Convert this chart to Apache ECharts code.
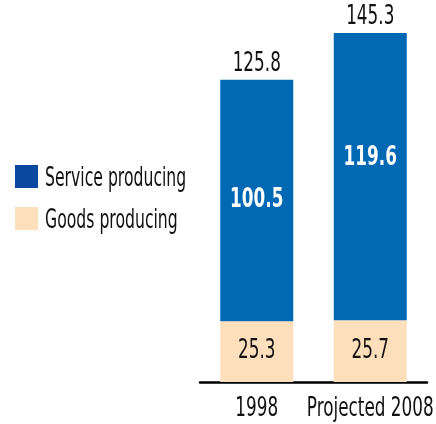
<!DOCTYPE html>
<html>
<head>
<meta charset="utf-8">
<script src="https://cdn.jsdelivr.net/npm/echarts@6/dist/echarts.min.js"></script>
<style>
  html, body { margin: 0; padding: 0; background: #fff; }
  #chart { width: 436px; height: 424px; }
</style>
</head>
<body>
<div id="chart"></div>
<script>
// Employment by sector, millions of jobs
const categories = ['1998', 'Projected 2008'];
const seriesNames = ['Service producing', 'Goods producing'];
const goodsProducing = [25.3, 25.7];
const serviceProducing = [100.5, 119.6];
const totals = categories.map((_, i) => +(goodsProducing[i] + serviceProducing[i]).toFixed(1));

const FAMILY = "'DejaVu Sans Condensed', 'DejaVu Sans', sans-serif";
const SQUEEZE = 0.72;          // horizontal squeeze for a tall, narrow typeface
const BLUE = '#0169b4';
const BLUE_KEY = '#0a47a0';
const PEACH = '#fddfbb';
const INK = '#111';

const chart = echarts.init(document.getElementById('chart'), null, { renderer: 'canvas' });

chart.setOption({
  animation: false,
  grid: { left: 200, right: 9, top: 0, bottom: 42 },
  legend: {
    orient: 'vertical',
    left: 15,
    top: 165,
    padding: 0,
    itemWidth: 23,
    itemHeight: 23,
    itemGap: 19,
    icon: 'rect',
    formatter: () => '',
    data: [
      { name: seriesNames[0], itemStyle: { color: BLUE_KEY } },
      { name: seriesNames[1], itemStyle: { color: PEACH } }
    ]
  },
  xAxis: {
    type: 'category',
    data: categories,
    offset: 2,
    axisLine: { lineStyle: { color: '#000', width: 2.5 } },
    axisTick: { show: false },
    axisLabel: { show: false }
  },
  yAxis: { type: 'value', min: 0, max: 159, show: false },
  series: [
    {
      name: seriesNames[1],
      type: 'bar',
      stack: 'jobs',
      barWidth: 73,
      itemStyle: { color: PEACH },
      data: goodsProducing
    },
    {
      name: seriesNames[0],
      type: 'bar',
      stack: 'jobs',
      barWidth: 73,
      itemStyle: { color: BLUE },
      data: serviceProducing
    }
  ]
});

// Condensed text drawn with a horizontal squeeze, above the bars
function squeezedText(x, y, text, opts) {
  return {
    type: 'text',
    x: x,
    y: y,
    z: 100,
    scaleX: opts.squeeze || SQUEEZE,
    silent: true,
    style: {
      text: text,
      x: 0,
      y: 0,
      align: opts.align || 'center',
      verticalAlign: 'middle',
      textAlign: opts.align || 'center',
      textVerticalAlign: 'middle',
      font: (opts.bold ? 'bold ' : '') + opts.size + 'px ' + FAMILY,
      fill: opts.color || INK
    }
  };
}

const px = (i, v) => chart.convertToPixel({ xAxisIndex: 0, yAxisIndex: 0 }, [i, v]);
const serviceShift = [0, -18];
const texts = [];

categories.forEach((cat, i) => {
  const g = goodsProducing[i];
  const s = serviceProducing[i];
  const t = totals[i];
  const gp = px(i, g / 2);
  texts.push(squeezedText(gp[0], gp[1], g.toFixed(1), { size: 26 }));
  const sp = px(i, g + s / 2);
  texts.push(squeezedText(sp[0], sp[1] + serviceShift[i], s.toFixed(1), { size: 26, bold: true, color: '#fff' }));
  const tp = px(i, t);
  texts.push(squeezedText(tp[0], tp[1] - 16, t.toFixed(1), { size: 26 }));
  const base = px(i, 0);
  texts.push(squeezedText(base[0], base[1] + 27, cat, { size: 26 }));
});

texts.push(squeezedText(45, 179, seriesNames[0], { size: 26, align: 'left', squeeze: 0.67 }));
texts.push(squeezedText(45, 221, seriesNames[1], { size: 26, align: 'left', squeeze: 0.67 }));

chart.setOption({ graphic: texts });
</script>
</body>
</html>
